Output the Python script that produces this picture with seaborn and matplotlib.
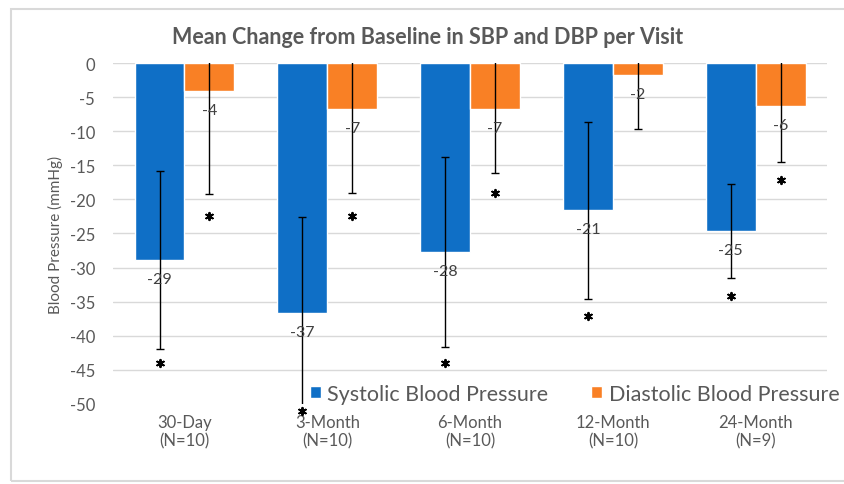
import pandas as pd
import matplotlib
matplotlib.use('Agg')
import matplotlib.pyplot as plt
import seaborn as sns
from matplotlib.patches import Rectangle

# Data
visits = ['30-Day\n(N=10)', '3-Month\n(N=10)', '6-Month\n(N=10)', '12-Month\n(N=10)', '24-Month\n(N=9)']
sbp = [-28.9, -36.6, -27.7, -21.6, -24.6]
sbp_err = [13.1, 14.0, 13.9, 13.0, 6.9]
dbp = [-4.1, -6.8, -6.8, -1.8, -6.3]
dbp_err = [15.1, 12.2, 9.3, 7.9, 8.2]
sbp_labels = ['-29', '-37', '-28', '-21', '-25']
dbp_labels = ['-4', '-7', '-7', '-2', '-6']
# where the significance stars sit (None = no star)
sbp_star = [-44.0, -51.0, -44.0, -37.1, -34.1]
dbp_star = [-22.4, -22.5, -19.0, None, -17.2]

series = ['Systolic Blood Pressure', 'Diastolic Blood Pressure']
colors = ['#0F6FC6', '#F98025']

df = pd.DataFrame({
    'visit': visits * 2,
    'value': sbp + dbp,
    'series': [series[0]] * 5 + [series[1]] * 5,
})

sns.set_style('white')
plt.rcParams['font.family'] = ['Lato', 'DejaVu Sans']
plt.rcParams['axes.unicode_minus'] = False

fig = plt.figure(figsize=(8.44, 4.85), dpi=100)
ax = fig.add_axes([0.134, 0.165, 0.846, 0.703])

sns.barplot(data=df, x='visit', y='value', hue='series', palette=colors,
            width=0.7, ax=ax, saturation=1, errorbar=None)
ax.set_xlim(-0.5, len(visits) - 0.5)

# error bars, value labels and significance stars
grey = '#404040'
for cont, vals, errs, labs, stars in zip(ax.containers, [sbp, dbp], [sbp_err, dbp_err],
                                         [sbp_labels, dbp_labels], [sbp_star, dbp_star]):
    xs = [p.get_x() + p.get_width() / 2 for p in cont.patches]
    ax.errorbar(xs, vals, yerr=errs, fmt='none', ecolor='black', elinewidth=1,
                capsize=3, capthick=1)
    for x, v, lab in zip(xs, vals, labs):
        ax.text(x, v - 2.8, lab, ha='center', va='center', fontsize=11.5, color=grey)
    sx = [x for x, st in zip(xs, stars) if st is not None]
    sy = [st for st in stars if st is not None]
    ax.scatter(sx, sy, marker=(6, 2, 0), s=28, color='black', linewidths=1.4,
               clip_on=False, zorder=5)

ax.set_ylim(-50, 0)
ax.set_yticks(range(-50, 1, 5))
ax.yaxis.grid(True, color='#D9D9D9', linewidth=1)
for gl, t in zip(ax.get_ygridlines(), ax.get_yticks()):
    if t == -50:
        gl.set_visible(False)
ax.set_axisbelow(True)
for s in ax.spines.values():
    s.set_visible(False)
ax.tick_params(axis='both', length=0, colors='#595959', labelsize=12)
ax.tick_params(axis='y', pad=13)
ax.tick_params(axis='x', pad=7)
ax.set_xlabel('')
ax.set_ylabel('Blood Pressure (mmHg)', fontsize=11, color='#595959', labelpad=5)

ax.legend(loc='center right', bbox_to_anchor=(1.017, 0.03), ncol=2, frameon=False,
          fontsize=15.5, handlelength=0.5, handleheight=0.5, handletextpad=0.3,
          columnspacing=2.0, labelcolor='#595959', borderpad=0, borderaxespad=0)

fig.suptitle('Mean Change from Baseline in SBP and DBP per Visit', x=0.507, y=0.945,
             fontsize=15.5, fontweight='bold', color='#595959')

fig.patches.append(Rectangle((0.013, 0.006), 1.0, 0.974, transform=fig.transFigure,
                             fill=False, edgecolor='#D9D9D9', linewidth=1.5))

fig.savefig('out.png', dpi=100)
